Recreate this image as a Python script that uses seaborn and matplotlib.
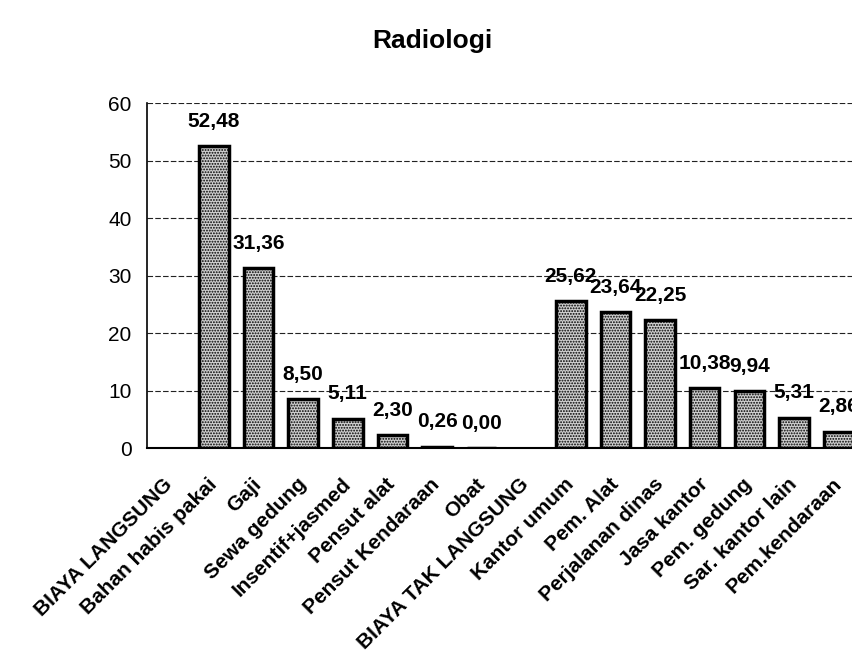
import matplotlib
matplotlib.use("Agg")
import matplotlib.pyplot as plt
import matplotlib.transforms as mtrans
import numpy as np
import pandas as pd
import seaborn as sns

# DATA
kategori = ["BIAYA LANGSUNG", "Bahan habis pakai", "Gaji", "Sewa gedung",
            "Insentif+jasmed", "Pensut alat", "Pensut Kendaraan", "Obat",
            "BIAYA TAK LANGSUNG", "Kantor umum", "Pem. Alat", "Perjalanan dinas",
            "Jasa kantor", "Pem. gedung", "Sar. kantor lain", "Pem.kendaraan"]
nilai = [np.nan, 52.48, 31.36, 8.50, 5.11, 2.30, 0.26, 0.00,
         np.nan, 25.62, 23.64, 22.25, 10.38, 9.94, 5.31, 2.86]
yticks = [0, 10, 20, 30, 40, 50, 60]

df = pd.DataFrame({"kategori": kategori, "nilai": nilai})

sns.set_style("white")
plt.rcParams["font.family"] = ["Liberation Sans", "DejaVu Sans"]
plt.rcParams["hatch.linewidth"] = 0.9
plt.rcParams["text.color"] = "black"
plt.rcParams["xtick.color"] = "black"
plt.rcParams["ytick.color"] = "black"
plt.rcParams["xtick.labelcolor"] = "black"
plt.rcParams["ytick.labelcolor"] = "black"

fig = plt.figure(figsize=(8.52, 6.57), dpi=100)
ax = fig.add_axes([0.1725, 0.318, 0.838, 0.525])

sns.barplot(data=df, x="kategori", y="nilai", order=kategori, ax=ax,
            color="#c8c8c8", edgecolor="black", linewidth=2.5, width=0.66,
            errorbar=None)
for p in ax.patches:
    p.set_hatch("......")
    p.set_facecolor("#cfcfcf")

#LABELS ON TOP
for i, v in enumerate(nilai):
    if np.isnan(v):
        continue
    ax.annotate(f"{v:.2f}".replace(".", ","), (i, v), xytext=(0, 11),
                textcoords="offset points", ha="center", va="bottom",
                fontsize=15, fontweight="bold", color="black")

ax.set_xlim(-0.5, len(kategori) - 0.5)
ax.set_ylim(0, 60)
ax.set_yticks(yticks)
ax.set_yticklabels([str(t) for t in yticks], fontsize=15)
ax.yaxis.grid(True, color="#222222", linestyle=(0, (5, 2)), linewidth=0.8)
ax.set_axisbelow(True)

ax.set_xticks(range(len(kategori)))
ax.set_xticklabels(kategori, rotation=45, ha="right", va="center",
                   rotation_mode="anchor", fontsize=15, fontweight="bold")
# shift labels a bit left, like the original
shift = mtrans.ScaledTranslation(-8 / 100, 2 / 100, fig.dpi_scale_trans)
for lab in ax.get_xticklabels():
    lab.set_transform(lab.get_transform() + shift)
ax.set_xticks(np.arange(-0.5, len(kategori), 1), minor=True)
ax.tick_params(axis="x", which="major", length=0, pad=24)
ax.tick_params(axis="x", which="minor", length=6, width=1, direction="out", color="black")
ax.tick_params(axis="y", length=5, width=1, direction="out", color="black", pad=6)

ax.set_xlabel("")
ax.set_ylabel("")
for s in ["top", "right"]:
    ax.spines[s].set_visible(False)
ax.spines["left"].set_color("black")
ax.spines["bottom"].set_color("black")
ax.spines["left"].set_linewidth(1.2)
ax.spines["bottom"].set_linewidth(1.5)

fig.text(0.508, 0.938, "Radiologi", ha="center", va="center",
         fontsize=19, fontweight="bold", color="black")

fig.savefig("out.png", dpi=100)
